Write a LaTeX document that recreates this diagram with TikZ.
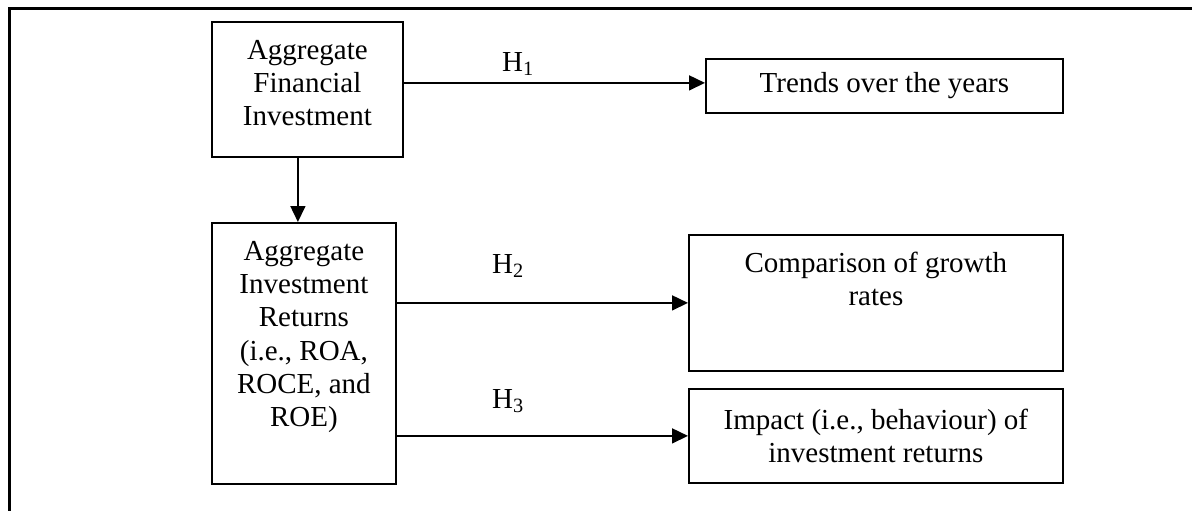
\documentclass[tikz,border=0pt]{standalone}
\usepackage{fontspec}
\setmainfont{Liberation Serif}
\usetikzlibrary{arrows.meta}

% top-aligned text inside a fixed box
\newcommand{\topbox}[3]{\parbox[c][#2pt][t]{#1pt}{\centering\vspace*{14pt}\strut #3}}

\begin{document}
\begin{tikzpicture}[
    x=1pt, y=-1pt,
    txt/.style={font=\fontsize{29pt}{33.3pt}\selectfont},
    box/.style={txt, rectangle, draw, line width=1.8pt, inner sep=0pt, anchor=north west},
    cbox/.style={box, align=center},
    hlab/.style={txt, anchor=base, inner sep=0pt},
    arrow/.style={-{Triangle[length=16pt,width=15pt]}, line width=1.6pt}
]
\useasboundingbox (0,0) rectangle (1192,511);

% frame
\draw[line width=3pt] (1192,9) -- (9,9) -- (9,511);

% left column
\node[box] (fin) at (211,21) {\topbox{191}{135}{Aggregate\\Financial\\Investment}};
\node[box] (ret) at (211,222) {\topbox{184}{261}{Aggregate\\Investment\\Returns\\(i.e., ROA,\\ROCE, and\\ROE)}};

% right column
\node[cbox, minimum width=357pt, minimum height=54pt] (trends) at (705,58) {Trends over the years};
\node[box] (comp) at (688,234) {\topbox{374}{136}{Comparison of growth\\rates}};
\node[cbox, minimum width=374pt, minimum height=94pt] (impact) at (688,388) {Impact (i.e., behaviour) of\\investment returns};

% hypotheses
\node[hlab] (h1) at (518,71) {H\textsubscript{1}};
\node[hlab] (h2) at (508,273) {H\textsubscript{2}};
\node[hlab] (h3) at (508,408) {H\textsubscript{3}};

% connections
\draw[arrow] ([xshift=-9.5pt]fin.south) -- ([xshift=-9.5pt]fin.south |- ret.north);
\draw[arrow] ([yshift=3pt]fin.east |- trends.west) -- ([yshift=3pt]trends.west);
\draw[arrow] (ret.east |- comp.west) -- (comp.west);
\draw[arrow] (ret.east |- impact.west) -- (impact.west);

\end{tikzpicture}
\end{document}
